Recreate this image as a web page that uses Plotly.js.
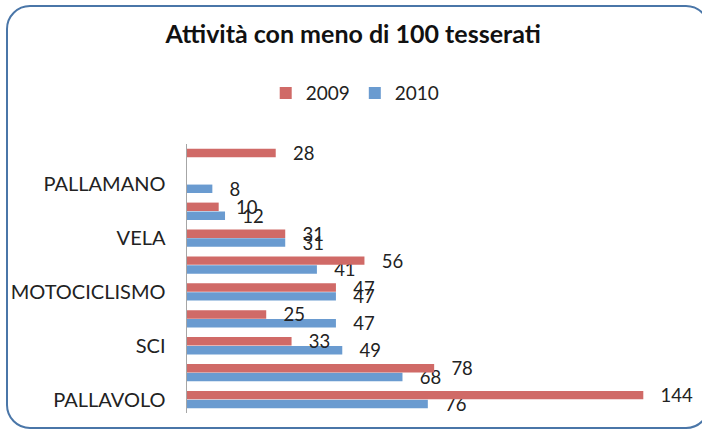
<!DOCTYPE html>
<html>
<head>
<meta charset="utf-8">
<script src="https://cdn.plot.ly/plotly-3.0.1.min.js"></script>
<style>
  html, body { margin: 0; padding: 0; background: #ffffff; }
  #wrap { position: relative; width: 702px; height: 429px; overflow: hidden; }
  #chart { position: absolute; left: 0; top: 0; width: 702px; height: 429px; }
  #frame { position: absolute; left: 6px; top: 5px; width: 700px; height: 420px;
           border: 2.5px solid #4a76a8; border-radius: 24px; pointer-events: none; }
</style>
</head>
<body>
<div id="wrap">
  <div id="chart"></div>
  <div id="frame"></div>
</div>
<script>
// categories, bottom to top
const categories = ['PALLAVOLO', '', 'SCI', '', 'MOTOCICLISMO', '', 'VELA', '', 'PALLAMANO', ''];
const values2009 = [144, 78, 33, 25, 47, 56, 31, 10, null, 28];
const values2010 = [76, 68, 49, 47, 47, 41, 31, 12, 8, null];
const seriesNames = ['2009', '2010'];

const idx = categories.map((c, i) => i);
const pad = '\u00a0\u00a0\u00a0';
const FONT = 'Lato, "Open Sans", sans-serif';
const labelFont = { family: FONT, size: 18.5, color: '#222222' };

const trace2010 = {
  type: 'bar', orientation: 'h', name: seriesNames[1],
  y: idx, x: values2010,
  marker: { color: '#6a9bd0' },
  text: values2010.map(v => v == null ? '' : pad + v),
  textposition: 'outside', constraintext: 'none', cliponaxis: false,
  textfont: labelFont, hoverinfo: 'x+name'
};
const trace2009 = {
  type: 'bar', orientation: 'h', name: seriesNames[0],
  y: idx, x: values2009,
  marker: { color: '#d06a67' },
  text: values2009.map(v => v == null ? '' : pad + v),
  textposition: 'outside', constraintext: 'none', cliponaxis: false,
  textfont: labelFont, hoverinfo: 'x+name'
};

const layout = {
  width: 702, height: 429,
  paper_bgcolor: 'rgba(0,0,0,0)', plot_bgcolor: 'rgba(0,0,0,0)',
  margin: { l: 187, r: 8, t: 144, b: 16 },
  title: { text: '<b>Attività con meno di 100 tesserati</b>',
           font: { family: FONT, size: 25, color: '#111111' },
           x: 0.503, xanchor: 'center', xref: 'container', y: 0.92, yanchor: 'middle', yref: 'container' },
  showlegend: true,
  legend: { orientation: 'h', x: 0.506, xanchor: 'center', xref: 'container', y: 0.783, yanchor: 'middle', yref: 'container',
            traceorder: 'reversed', itemwidth: 30,
            font: { family: FONT, size: 19, color: '#222222' } },
  barmode: 'group', bargap: 0.34, bargroupgap: 0.05,
  xaxis: { range: [0, 160], showgrid: false, zeroline: false, showticklabels: false, showline: false, ticks: '', fixedrange: true },
  yaxis: { range: [-0.5, 9.5], tickmode: 'array', tickvals: idx, ticktext: categories,
           showgrid: false, zeroline: false, showline: true, linecolor: '#a6a6a6', linewidth: 1.5,
           ticks: '', ticklabelstandoff: 16,
           tickfont: { family: FONT, size: 20, color: '#222222' } }
};

Plotly.newPlot('chart', [trace2010, trace2009], layout, { displayModeBar: false, staticPlot: true });
</script>
</body>
</html>
